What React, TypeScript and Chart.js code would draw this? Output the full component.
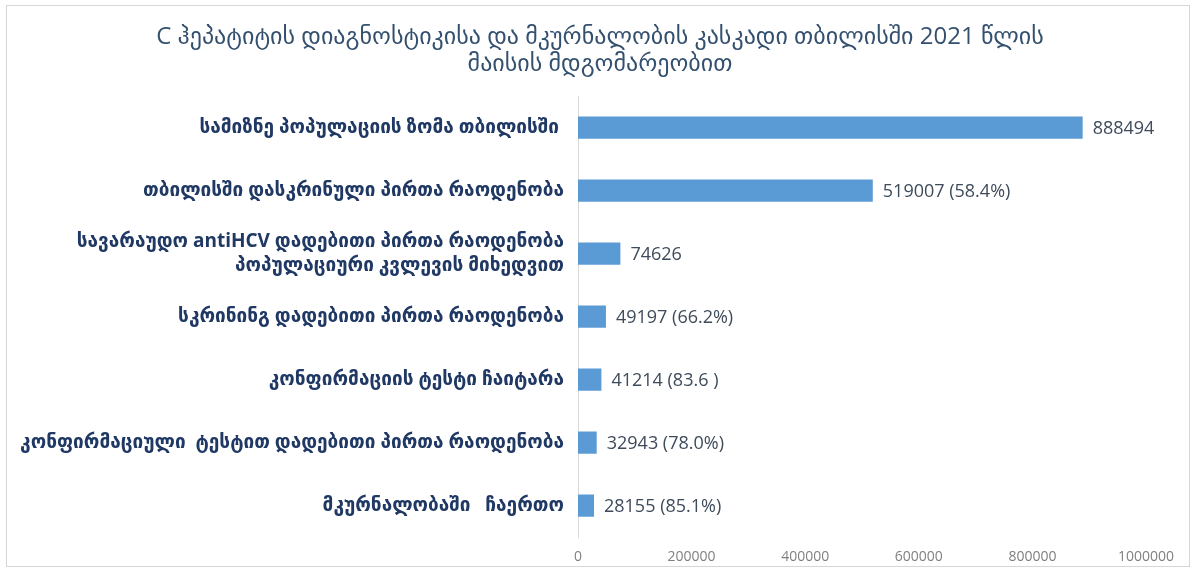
import React, { useEffect, useRef } from 'react';
import { Chart, registerables } from 'chart.js';

Chart.register(...registerables);

const titleLines = [
  'C ჰეპატიტის დიაგნოსტიკისა და მკურნალობის კასკადი თბილისში 2021 წლის',
  'მაისის მდგომარეობით',
];

const categories: (string | string[])[] = [
  'სამიზნე პოპულაციის ზომა თბილისში ',
  'თბილისში დასკრინული პირთა რაოდენობა',
  ['სავარაუდო antiHCV დადებითი პირთა რაოდენობა', 'პოპულაციური კვლევის მიხედვით'],
  'სკრინინგ დადებითი პირთა რაოდენობა',
  'კონფირმაციის ტესტი ჩაიტარა',
  'კონფირმაციული  ტესტით დადებითი პირთა რაოდენობა',
  'მკურნალობაში   ჩაერთო',
];

const values = [888494, 519007, 74626, 49197, 41214, 32943, 28155];

const valueLabels = [
  '888494',
  '519007 (58.4%)',
  '74626',
  '49197 (66.2%)',
  '41214 (83.6 )',
  '32943 (78.0%)',
  '28155 (85.1%)',
];

const xMin = 0;
const xMax = 1000000;
const xStep = 200000;

const barLabelPlugin = {
  id: 'barLabels',
  afterLayout(chart: any) {
    // centre the title over the whole canvas rather than the padded box
    if (chart.titleBlock) {
      chart.titleBlock.left = 5;
      chart.titleBlock.right = chart.width;
    }
  },
  afterDatasetsDraw(chart: any) {
    const ctx = chart.ctx;
    const meta = chart.getDatasetMeta(0);
    ctx.save();
    ctx.font = '18px "Open Sans", "DejaVu Sans", sans-serif';
    ctx.fillStyle = '#3E4B5B';
    ctx.textAlign = 'left';
    ctx.textBaseline = 'middle';
    meta.data.forEach((bar: any, i: number) => {
      ctx.fillText(valueLabels[i], bar.x + 10, bar.y + 1);
    });
    ctx.restore();
  },
};

export default function App() {
  const canvasRef = useRef<HTMLCanvasElement | null>(null);

  useEffect(() => {
    if (!canvasRef.current) return;
    const chart = new Chart(canvasRef.current, {
      type: 'bar',
      data: {
        labels: categories,
        datasets: [
          {
            data: values,
            backgroundColor: '#5B9BD5',
            borderWidth: 0,
            categoryPercentage: 0.8,
            barPercentage: 0.44,
          },
        ],
      },
      options: {
        indexAxis: 'y',
        animation: false,
        responsive: true,
        maintainAspectRatio: false,
        layout: { padding: { left: 0, right: 49, top: 0, bottom: -4 } },
        plugins: {
          legend: { display: false },
          tooltip: { enabled: false },
          title: {
            display: true,
            text: titleLines,
            color: '#34506F',
            font: { family: '"Open Sans", "DejaVu Sans", sans-serif', size: 24, weight: 'normal', lineHeight: 1.15 },
            padding: { top: 23, bottom: 18 },
          },
        },
        scales: {
          x: {
            min: xMin,
            max: xMax,
            grid: { display: false, drawTicks: false },
            border: { display: false },
            ticks: {
              stepSize: xStep,
              color: '#808080',
              padding: 11,
              font: { family: '"Open Sans", sans-serif', size: 14 },
              callback: (v: any) => String(v),
            },
          },
          y: {
            grid: { display: false, drawTicks: false },
            border: { display: true, color: '#D9D9D9', width: 1 },
            afterFit: (scale: any) => {
              scale.width = 578;
            },
            ticks: {
              color: '#1F3864',
              padding: 14,
              font: { family: '"Open Sans", "DejaVu Sans", sans-serif', size: 19, weight: 'bold', lineHeight: 1.3 },
            },
          },
        },
      },
      plugins: [barLabelPlugin],
    });
    return () => chart.destroy();
  }, []);

  return (
    <div style={{ position: 'fixed', left: 0, top: 0, width: 1195, height: 572, background: '#fff' }}>
      <canvas ref={canvasRef} style={{ position: 'absolute', left: 0, top: 0 }} />
      <div
        style={{
          position: 'absolute',
          left: 6,
          top: 5,
          width: 1184,
          height: 562,
          border: '1px solid #D6D6D6',
          boxSizing: 'border-box',
          pointerEvents: 'none',
        }}
      />
    </div>
  );
}
